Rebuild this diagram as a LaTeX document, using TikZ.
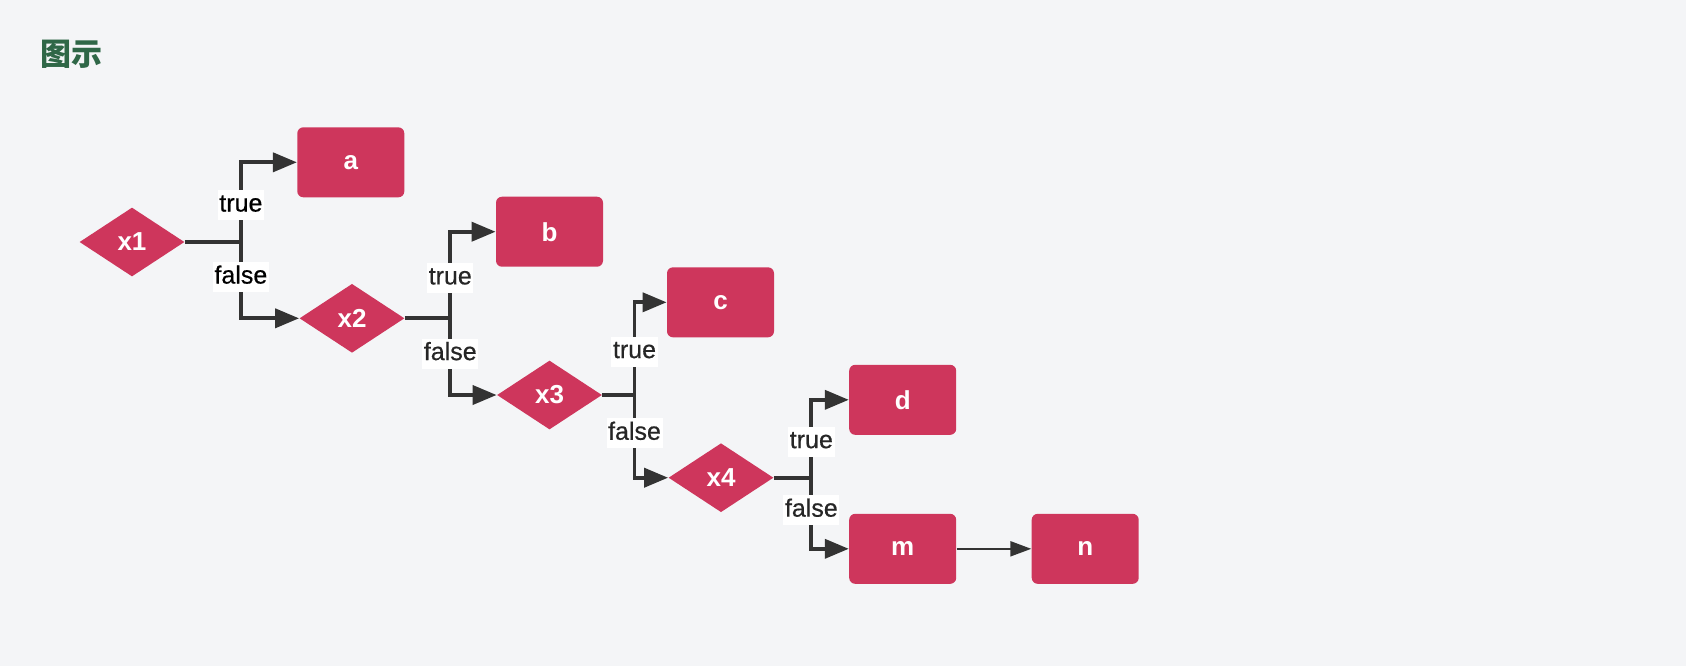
\documentclass[tikz,border=0pt]{standalone}
\usepackage{fontspec}
\setmainfont{Liberation Sans}
\newfontfamily\lblfont[FakeBold=0.5]{Liberation Sans}
\newfontfamily\cjk{Noto Sans CJK SC}
\usetikzlibrary{shapes.geometric,arrows.meta,calc}
\definecolor{bg}{HTML}{F4F5F7}
\definecolor{nodecol}{HTML}{CE365C}
\definecolor{linecol}{HTML}{333333}
\definecolor{labelcol}{HTML}{262626}
\definecolor{titlecol}{HTML}{2F6747}
\begin{document}
\begin{tikzpicture}[x=0.5pt,y=-0.5pt,
  dec/.style={diamond, fill=nodecol, minimum width=52.5pt, minimum height=34.5pt,
    inner sep=0pt, text=white, font=\bfseries\fontsize{13}{15}\selectfont},
  box/.style={rectangle, rounded corners=3pt, fill=nodecol, minimum width=53.5pt,
    minimum height=35pt, inner sep=0pt, text=white, font=\bfseries\fontsize{13}{15}\selectfont},
  stem/.style={draw=linecol, line width=1.9pt},
  conn/.style={draw=linecol, line width=1.9pt, -{Triangle[length=12pt,width=9.5pt]}},
  thin/.style={draw=linecol, line width=1.1pt, -{Triangle[length=10.5pt,width=7.5pt]}},
  lbl/.style={fill=white, text=labelcol, font=\lblfont\fontsize{12.5}{14}\selectfont,
    inner xsep=0.8pt, inner ysep=0pt, minimum height=15pt, text height=9pt, text depth=2.6pt}]
\fill[bg] (0,0) rectangle (1686,666);
\useasboundingbox (0,0) rectangle (1686,666);

\node[text=titlecol, font=\cjk\bfseries\fontsize{15.5}{18}\selectfont] (title) at (71.5,54.5) {图示};

\node[dec] (x1) at (132,242) {x1};
\node[box] (a) at (350.8,162.3) {a};
\node[dec] (x2) at (352,318.3) {x2};
\node[box] (b) at (549.5,231.7) {b};
\node[dec] (x3) at (549.5,395) {x3};
\node[box] (c) at (720.5,302.3) {c};
\node[dec] (x4) at (721,477.7) {x4};
\node[box] (d) at (902.7,399.8) {d};
\node[box] (m) at (902.7,548.8) {m};
\node[box] (n) at (1085.2,548.8) {n};

\path let \p1=($(x1.east)!0.5!(a.west)$), \p2=(x1.east) in coordinate (j1) at (\x1,\y2);
\path let \p1=($(x2.east)!0.5!(b.west)$), \p2=(x2.east) in coordinate (j2) at (\x1,\y2);
\path let \p1=($(x3.east)!0.5!(c.west)$), \p2=(x3.east) in coordinate (j3) at (\x1,\y2);
\path let \p1=($(x4.east)!0.5!(d.west)$), \p2=(x4.east) in coordinate (j4) at (\x1,\y2);

\draw[stem] (x1.east) -- (j1);
\draw[conn] (j1) |- (a.west) node[lbl, text=black, pos=0.25, yshift=-1.5pt] {true};
\draw[conn] (j1) |- (x2.west) node[lbl, text=black, pos=0.25, yshift=1.5pt] {false};

\draw[stem] (x2.east) -- (j2);
\draw[conn] (j2) |- (b.west) node[lbl, pos=0.25, yshift=-1.5pt] {true};
\draw[conn] (j2) |- (x3.west) node[lbl, pos=0.25, yshift=1.5pt] {false};

\draw[stem] (x3.east) -- (j3);
\draw[conn] (j3) |- (c.west) node[lbl, pos=0.25, yshift=-1.5pt] {true};
\draw[conn] (j3) |- (x4.west) node[lbl, pos=0.25, yshift=1.5pt] {false};

\draw[stem] (x4.east) -- (j4);
\draw[conn] (j4) |- (d.west) node[lbl, pos=0.25, yshift=-1.5pt] {true};
\draw[conn] (j4) |- (m.west) node[lbl, pos=0.25, yshift=1.5pt] {false};

\draw[thin] (m.east) -- (n.west);
\end{tikzpicture}
\end{document}
